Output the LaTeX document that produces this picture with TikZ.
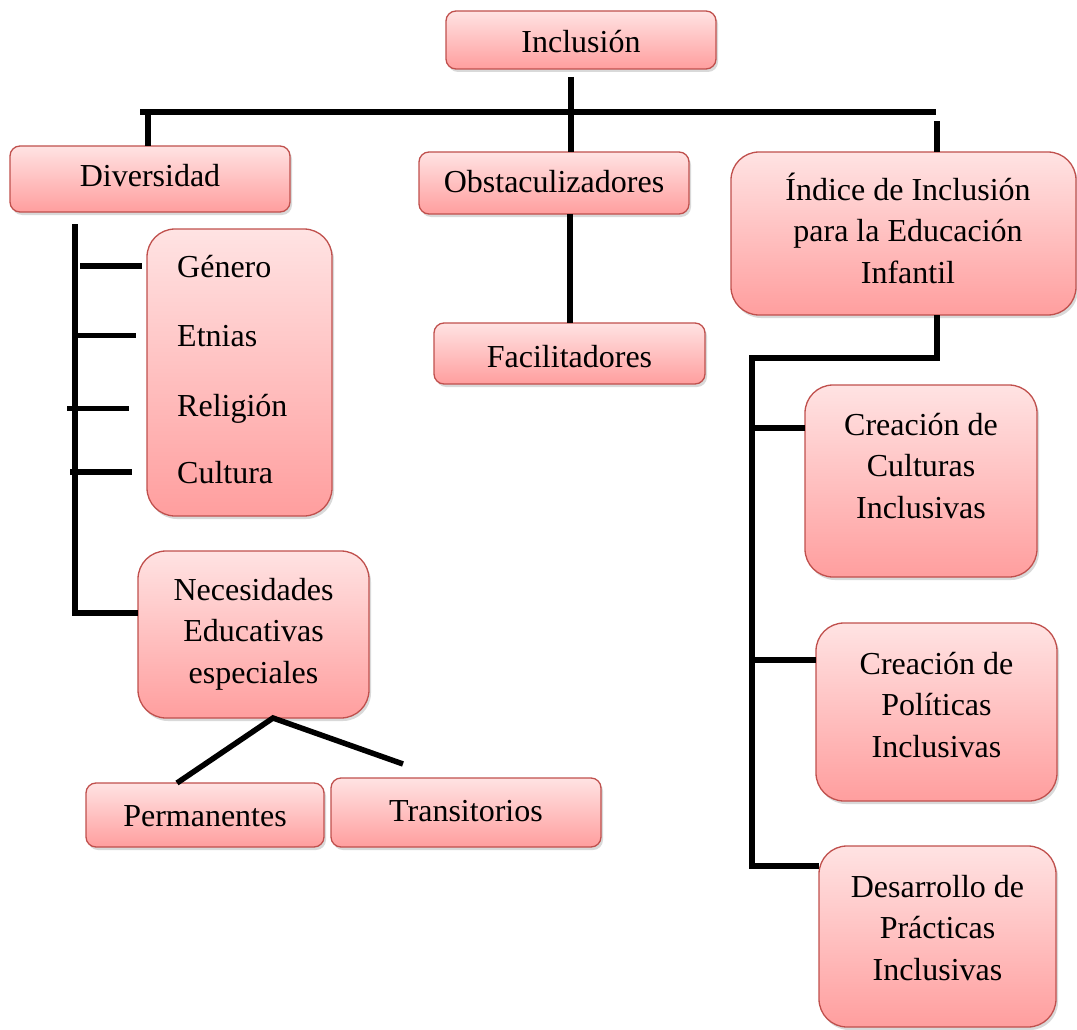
\documentclass[tikz,border=0pt]{standalone}
\usepackage{fontspec}
\setmainfont{Liberation Serif}
\usetikzlibrary{shadows,calc}
\definecolor{boxtop}{HTML}{FFE3E3}
\definecolor{boxbot}{HTML}{FF9E9E}
\definecolor{boxline}{HTML}{C0504D}
\begin{document}
\begin{tikzpicture}[x=1pt,y=-1pt,
 box/.style={draw=boxline, line width=1.3pt, rounded corners=10pt,
   top color=boxtop, bottom color=boxbot,
   drop shadow={shadow xshift=2pt,shadow yshift=-3pt,opacity=0.3},
   inner sep=0pt, outer sep=0pt},
 bigbox/.style={box, rounded corners=28pt},
 txt/.style={font=\fontsize{32}{41.5}\selectfont, align=center, inner sep=0pt, anchor=base},
 ltxt/.style={txt, anchor=base west, align=left},
 conn/.style={line width=5.5pt, black}]
\useasboundingbox (0,0) rectangle (1077,1030);

% boxes
\node[box, minimum width=270pt, minimum height=58pt] (incl) at (581,40) {};
\node[box, minimum width=280pt, minimum height=66pt] (div) at (150,179) {};
\node[box, minimum width=270pt, minimum height=62pt] (obs) at (554,183) {};
\node[bigbox, minimum width=345pt, minimum height=163pt] (ind) at (903.5,233.5) {};
\node[box, minimum width=271pt, minimum height=61pt] (fac) at (569.5,353.5) {};
\node[bigbox, minimum width=185pt, minimum height=287pt] (gbox) at (239.5,372.5) {};
\node[bigbox, minimum width=231pt, minimum height=167pt] (nee) at (253.5,634.5) {};
\node[box, minimum width=238pt, minimum height=64pt] (perm) at (205,815) {};
\node[box, minimum width=270pt, minimum height=69pt] (tran) at (466,812.5) {};
\node[bigbox, minimum width=232pt, minimum height=192pt] (cc) at (921,481) {};
\node[bigbox, minimum width=241pt, minimum height=178pt] (cp) at (936.5,712) {};
\node[bigbox, minimum width=237pt, minimum height=181pt] (dp) at (937.5,936.5) {};

% texts (multi-line nodes are anchored at the baseline of their last line)
\node[txt] (tincl) at (581,53) {Inclusión};
\node[txt] (tdiv) at (150,187) {Diversidad};
\node[txt] (tobs) at (554,193) {Obstaculizadores};
\node[txt] (tind) at (908,283) {Índice de Inclusión\\para la Educación\\Infantil};
\node[txt] (tfac) at (569.5,367) {Facilitadores};
\node[ltxt] (gen) at (177,277) {Género};
\node[ltxt] (etn) at (177,346) {Etnias};
\node[ltxt] (rel) at (177,416) {Religión};
\node[ltxt] (cul) at (177,483) {Cultura};
\node[txt] (tnee) at (253.5,683) {Necesidades\\Educativas\\especiales};
\node[txt] (tperm) at (205,826) {Permanentes};
\node[txt] (ttran) at (466,821) {Transitorios};
\node[txt] (tcc) at (921,518) {Creación de\\Culturas\\Inclusivas};
\node[txt] (tcp) at (936.5,757) {Creación de\\Políticas\\Inclusivas};
\node[txt] (tdp) at (937.5,980) {Desarrollo de\\Prácticas\\Inclusivas};

% connectors
\coordinate (hL) at (140,112);
\coordinate (hR) at (936,112);
\draw[conn] (hL) -- (hR);
\draw[conn] ([xshift=-10pt,yshift=-8pt]incl.south) -- ([xshift=-10pt]incl.south |- obs.north);
\draw[conn] ([xshift=-2pt]div.north) -- ([xshift=-2pt]div.north |- hL);
\draw[conn] ([xshift=33.5pt]ind.north) -- ++(0,-31);
\draw[conn] ([xshift=16pt]obs.south) -- ([xshift=16pt]obs.south |- fac.north);

\coordinate (dt) at (75,224);
\coordinate (dtb) at (75,613);
\draw[conn] (dt) -- (dtb) -- (dtb -| nee.west);
\draw[conn] ([xshift=5pt]dt |- gen) -- ([xshift=-5pt]gbox.west |- gen);
\draw[conn] ([xshift=2pt]dt |- etn) -- ([xshift=-11pt]gbox.west |- etn);
\draw[conn] ([xshift=-8pt]dt |- rel) -- ([xshift=-18pt]gbox.west |- rel);
\draw[conn] ([xshift=-5pt]dt |- cul) -- ([xshift=-15pt]gbox.west |- cul);

\coordinate (tfree) at (403,764);
\draw[conn] ([xshift=-28pt]perm.north) -- ([xshift=19.5pt]nee.south) -- (tfree);

\coordinate (it) at (752,358);
\coordinate (ib) at (752,866);
\draw[conn] ([xshift=33.5pt]ind.south) |- (it) -- (ib) -- (ib -| dp.west);
\coordinate (c1) at (752,428);
\coordinate (c2) at (752,660);
\draw[conn] (c1) -- (c1 -| cc.west);
\draw[conn] (c2) -- (c2 -| cp.west);
\end{tikzpicture}
\end{document}
